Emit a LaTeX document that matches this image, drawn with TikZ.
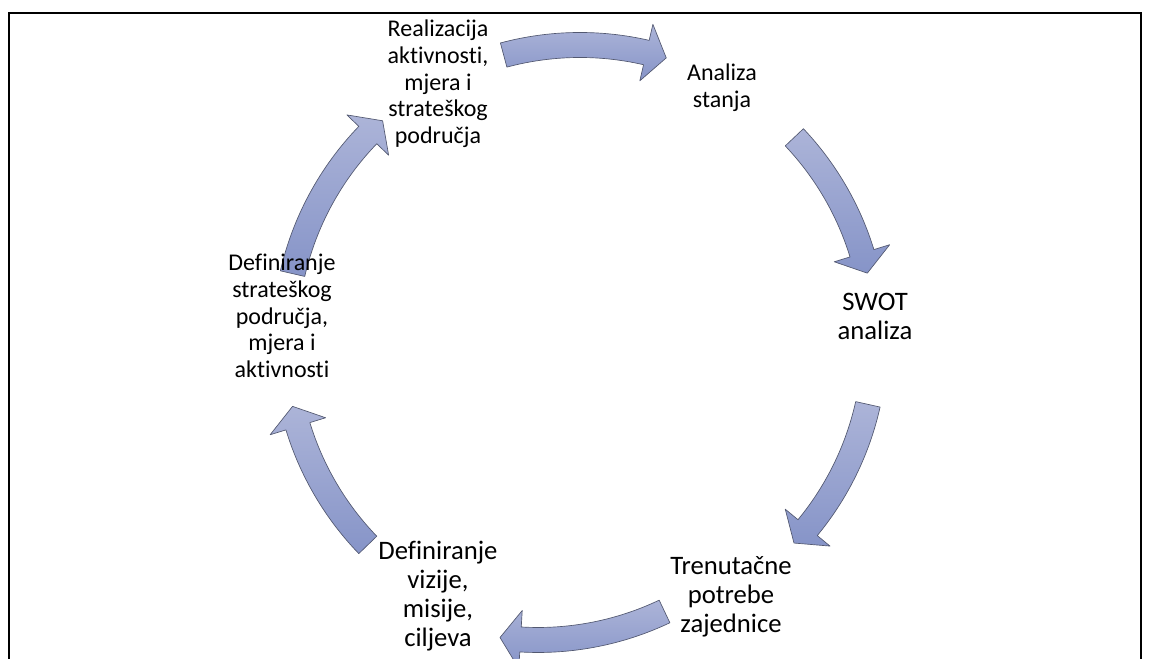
\documentclass[tikz,border=0pt]{standalone}
\usepackage{fontspec}
\setmainfont{Carlito}[Ligatures=NoCommon]
\definecolor{arrowlight}{RGB}{172,180,216}
\definecolor{arrowdark}{RGB}{134,148,200}
\definecolor{arrowline}{RGB}{82,88,112}
\tikzset{
  stage/.style={align=center, inner sep=0pt, font=\fontsize{18}{20}\selectfont},
  stagebig/.style={stage, font=\fontsize{20}{21.75}\selectfont},
  cyclearrow/.style={draw=arrowline, line width=0.5pt, top color=arrowlight, bottom color=arrowdark, line join=round}
}
\begin{document}
\begin{tikzpicture}[x=0.75pt,y=0.75pt]
        \def\cx{580}
        \def\cy{319}
        \def\R{295}
        \def\w{12.5} % half width of shaft
        \def\h{29}   % half width of head

        \pgfmathsetmacro{\Ro}{\R+\w}
        \pgfmathsetmacro{\Ri}{\R-\w}
        \pgfmathsetmacro{\Ho}{\R+\h}
        \pgfmathsetmacro{\Hi}{\R-\h}

        \useasboundingbox (0,0) rectangle (1149,659);
        \draw[line width=1.5pt] (9,0) -- (9,646) -- (1141,646) -- (1141,0);

        % curved block arrows: tail angle / tip angle / shift of centre
        \foreach \t/\p/\dx/\dy in {105/73/0/0, 43.4/13.1/0/0, -12.6/-43.5/0/0, -64.6/-97.4/-42/-5, -136/-167/0/0, 167/132/0/0} {\pgfmathsetmacro{\hb}{\p+4}
                \draw[cyclearrow,shift={(\cx+\dx,\cy+\dy)}] (\t:\Ro) arc[start angle=\t, end angle=\hb, radius=\Ro] -- (\hb:\Ho) -- (\p:\R) -- (\hb:\Hi) -- (\hb:\Ri) arc[start angle=\hb, end angle=\t, radius=\Ri] -- cycle;}

        \node[stage] (realizacija) at (438,575) {Realizacija\\aktivnosti,\\mjera i\\strateškog\\područja};
        \node[stage] (analiza) at (722,571) {Analiza\\stanja};
        \node[stagebig] (swot) at (875,343) {SWOT\\analiza};
        \node[stagebig] (potrebe) at (731,62) {Trenutačne\\potrebe\\zajednice};
        \node[stagebig] (vizija) at (438,63) {Definiranje\\vizije,\\misije,\\ciljeva};
        \node[stage] (strategija) at (282,343) {Definiranje\\strateškog\\područja,\\mjera i\\aktivnosti};
    \end{tikzpicture}
\end{document}
